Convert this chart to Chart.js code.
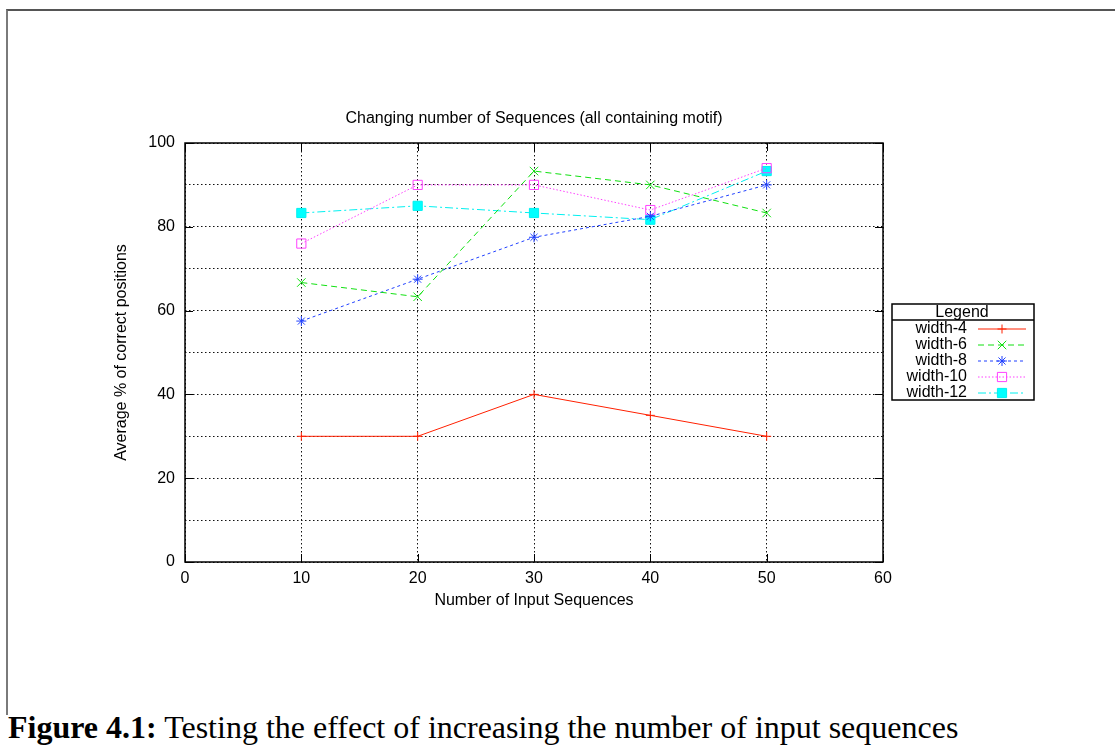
<!DOCTYPE html>
<html>
<head>
<meta charset="utf-8">
<title>Changing number of Sequences</title>
<script src="https://cdn.jsdelivr.net/npm/chart.js@4/dist/chart.umd.min.js"></script>
<style>
  html, body { margin: 0; padding: 0; background: #fff; }
  body { width: 1115px; height: 749px; position: relative; overflow: hidden; }
  #frame {
    position: absolute; left: 6px; top: 9px; width: 1109px; height: 704px;
    border-top: 2px solid #555; border-left: 2px solid #7a7a7a;
  }
  #wrap { position: absolute; left: 0; top: 0; width: 1115px; height: 620px; }
  #caption {
    position: absolute; left: 8px; top: 711px; line-height: 32px;
    font-family: "Liberation Serif", "Times New Roman", serif; font-size: 32px;
    color: #000; white-space: nowrap;
  }
</style>
</head>
<body>
<div id="frame"></div>
<div id="wrap"><canvas id="chart"></canvas></div>
<div id="caption"><b>Figure 4.1:</b> Testing the effect of increasing the number of input sequences</div>

<script>
// data
const xValues = [10, 20, 30, 40, 50];
const seriesNames = ['width-4', 'width-6', 'width-8', 'width-10', 'width-12'];
const width4  = [30, 30, 40, 35, 30];
const width6  = [66.7, 63.3, 93.3, 90, 83.3];
const width8  = [57.5, 67.5, 77.5, 82.5, 90];
const width10 = [76, 90, 90, 84, 94];
const width12 = [83.3, 85, 83.3, 81.7, 93.3];
const xTicks = [0, 10, 20, 30, 40, 50, 60];
const yGridTicks = [0, 10, 20, 30, 40, 50, 60, 70, 80, 90, 100];
const yLabelTicks = [0, 20, 40, 60, 80, 100];

const plotTitle = 'Changing number of Sequences (all containing motif)';
const xTitle = 'Number of Input Sequences';
const yTitle = 'Average % of correct positions';

// gnuplot-like line types
const lineStyles = [
  { color: '#ff2000', dash: [],           point: 'cross',    r: 4.5, fill: '#ff2000' },
  { color: '#10e010', dash: [6, 4],       point: 'crossRot', r: 6,   fill: '#10e010' },
  { color: '#2040ff', dash: [3, 3],       point: 'star',     r: 5,   fill: '#2040ff' },
  { color: '#ff40ff', dash: [1.5, 2],     point: 'rect',     r: 6.5, fill: 'rgba(0,0,0,0)' },
  { color: '#00f0f0', dash: [8, 3, 2, 3], point: 'rect',     r: 6.5, fill: '#00ffff' }
];

const FONT = '"Liberation Sans", Arial, Helvetica, sans-serif';
Chart.defaults.font.family = FONT;
Chart.defaults.font.size = 16;
Chart.defaults.color = '#000';

const allSeries = [width4, width6, width8, width10, width12];
const datasets = allSeries.map((vals, i) => {
  const s = lineStyles[i];
  return {
    label: seriesNames[i],
    data: vals.map((v, j) => ({ x: xValues[j], y: v })),
    borderColor: s.color,
    borderWidth: 1,
    borderDash: s.dash,
    pointStyle: s.point,
    pointRadius: s.r,
    pointHoverRadius: s.r,
    pointBorderWidth: 1,
    pointBorderColor: s.color,
    pointBackgroundColor: s.fill,
    tension: 0,
    fill: false
  };
});

const gnuplotFrame = {
  id: 'gnuplotFrame',
  afterDraw(chart) {
    const { ctx, chartArea: a, scales: { x, y } } = chart;
    ctx.save();

    // title over the plot
    ctx.fillStyle = '#000';
    ctx.font = '16px ' + FONT;
    ctx.textAlign = 'center';
    ctx.textBaseline = 'middle';
    ctx.fillText(plotTitle, (a.left + a.right) / 2, 119);

    // inward major ticks on all four sides
    ctx.setLineDash([]);
    ctx.strokeStyle = '#000';
    ctx.lineWidth = 1;
    ctx.beginPath();
    xTicks.forEach(v => {
      const px = Math.round(x.getPixelForValue(v)) + 0.5;
      ctx.moveTo(px, a.bottom); ctx.lineTo(px, a.bottom - 8);
      ctx.moveTo(px, a.top);    ctx.lineTo(px, a.top + 8);
    });
    yLabelTicks.forEach(v => {
      const py = Math.round(y.getPixelForValue(v)) + 0.5;
      ctx.moveTo(a.left, py);  ctx.lineTo(a.left + 8, py);
      ctx.moveTo(a.right, py); ctx.lineTo(a.right - 8, py);
    });
    ctx.stroke();

    // plot border
    ctx.lineWidth = 1.5;
    ctx.strokeRect(a.left, a.top, a.right - a.left, a.bottom - a.top);

    // legend box
    const lx = a.right + 9, ly = 304, lw = 142, rowH = 16;
    const lh = rowH * (datasets.length + 1);
    ctx.lineWidth = 1.5;
    ctx.strokeRect(lx, ly, lw, lh);
    ctx.beginPath();
    ctx.moveTo(lx, ly + rowH); ctx.lineTo(lx + lw, ly + rowH);
    ctx.stroke();
    ctx.font = '16px ' + FONT;
    ctx.textAlign = 'center';
    ctx.fillText('Legend', lx + 70, ly + rowH / 2 + 1);

    const drawPoint = Chart.helpers && Chart.helpers.drawPoint;
    datasets.forEach((ds, i) => {
      const cy = ly + rowH * (i + 1) + rowH / 2 + 1;
      ctx.fillStyle = '#000';
      ctx.textAlign = 'right';
      ctx.fillText(ds.label, lx + 75, cy);
      ctx.strokeStyle = ds.borderColor;
      ctx.lineWidth = 1;
      ctx.setLineDash(ds.borderDash);
      ctx.beginPath();
      ctx.moveTo(lx + 86, cy); ctx.lineTo(lx + 134, cy);
      ctx.stroke();
      ctx.setLineDash([]);
      if (drawPoint) {
        ctx.fillStyle = ds.pointBackgroundColor;
        drawPoint(ctx, { pointStyle: ds.pointStyle, radius: ds.pointRadius, borderWidth: 1, rotation: 0 }, lx + 110, cy);
      }
    });
    ctx.restore();
  }
};

new Chart(document.getElementById('chart'), {
  type: 'line',
  data: { datasets },
  options: {
    responsive: true,
    maintainAspectRatio: false,
    animation: false,
    layout: { padding: { top: 143, right: 232, left: 0, bottom: 0 } },
    plugins: {
      legend: { display: false },
      title: { display: false },
      tooltip: { enabled: false }
    },
    scales: {
      x: {
        type: 'linear',
        min: 0, max: 60,
        afterFit: s => { s.height = 58; },
        afterBuildTicks: s => { s.ticks = xTicks.map(v => ({ value: v })); },
        ticks: { padding: 7, color: '#000', font: { size: 16 } },
        grid: { color: '#111', lineWidth: 1, drawTicks: false },
        border: { display: false, dash: [1.5, 2.5] },
        title: { display: true, text: xTitle, color: '#000', font: { size: 16 }, padding: { top: 0, bottom: 10 } }
      },
      y: {
        type: 'linear',
        min: 0, max: 100,
        afterFit: s => { s.width = 185; },
        afterBuildTicks: s => { s.ticks = yGridTicks.map(v => ({ value: v })); },
        ticks: {
          padding: 10, color: '#000', font: { size: 16 },
          callback: v => yLabelTicks.includes(v) ? String(v) : ''
        },
        grid: { color: '#111', lineWidth: 1, drawTicks: false },
        border: { display: false, dash: [1.5, 2.5] },
        title: { display: true, text: yTitle, color: '#000', font: { size: 16 }, padding: { top: 112, bottom: 0 } }
      }
    }
  },
  plugins: [gnuplotFrame]
});
</script>
</body>
</html>
